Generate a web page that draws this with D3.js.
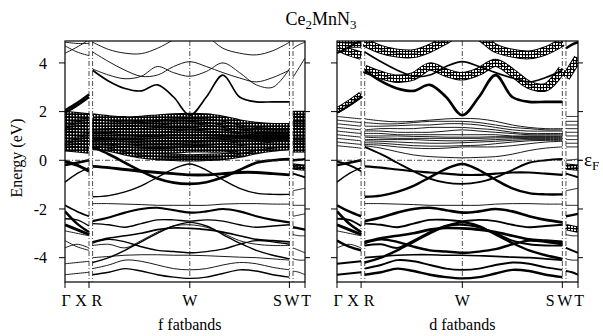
<!DOCTYPE html>
<html><head><meta charset="utf-8">
<script src="https://cdn.jsdelivr.net/npm/d3@7/dist/d3.min.js"></script>
<style>body{margin:0;background:#fff}svg{display:block;font-family:"Liberation Serif","Times New Roman",serif}</style>
</head><body><svg id="c" width="603" height="336"></svg>
<script>
// ---------- data ----------
const eTicks = [-4, -2, 0, 2, 4];
const kLabels = ["Γ", "X", "R", "W", "S", "W", "T"];
const kLabelPos = [0.005, 0.067, 0.133, 0.52, 0.885, 0.945, 1.005];
const kTicks = [0, 0.1, 0.52, 0.935, 1.0];
const kSymLines = [0.1, 0.115, 0.52, 0.935, 0.95];
const panelNames = ["f fatbands", "d fatbands"];

const kGX = [0, 0.05, 0.1];
const kRWS = [0.115, 0.1825, 0.25, 0.3175, 0.385, 0.4525, 0.52, 0.589, 0.658, 0.7275, 0.797, 0.866, 0.935];
const kWT = [0.95, 0.975, 1.0];

const bandsGX = [
  [4.85, 4.8, 4.8], [4.7, 4.45, 4.3], [4.4, 4.65, 4.95],
  [2.05, 2.35, 2.7], [1.95, 2.25, 2.6],
  [1.8, 1.75, 1.7], [1.65, 1.6, 1.55], [1.5, 1.45, 1.4], [1.35, 1.3, 1.25], [1.2, 1.15, 1.1],
  [1.05, 1.0, 0.95], [0.9, 0.85, 0.8], [0.75, 0.7, 0.65], [0.6, 0.55, 0.5],
  [-0.05, -0.2, -0.45], [-0.2, -0.1, 0.0], [-0.9, -0.55, -0.3],
  [-1.85, -2.1, -2.3], [-2.1, -2.6, -2.95], [-2.4, -2.45, -2.7], [-2.65, -2.85, -3.05],
  [-2.9, -3.0, -3.1], [-3.3, -3.55, -3.7], [-3.6, -3.45, -3.6], [-4.25, -4.2, -4.15], [-4.7, -4.65, -4.6]
];
const fwGX = [0,0,0, 0.3,0.3, 1,1,1,1,1,1,1,1,1, 0.45,0.3,0.1, 0.15,0.3,0.1,0.4, 0,0,0,0,0];
const dwGX = [0.7,0.7,0.2, 0.5,0.2, 0,0,0,0,0,0,0,0,0, 0.2,0.3,0.1, 0.35,0.35,0.2,0.4, 0,0.3,0,0.2,0.2];

const bandsRWS = [
  [4.85, 4.55, 4.4, 4.38, 4.6, 4.95, 5.3, 5.1, 4.6, 4.4, 4.33, 4.5, 4.85],
  [4.45, 4.05, 3.7, 3.45, 3.5, 3.85, 4.05, 3.85, 3.6, 3.38, 3.22, 3.4, 3.7],
  [3.75, 3.5, 3.35, 3.45, 3.85, 3.6, 3.45, 3.65, 4.0, 3.6, 3.1, 3.0, 3.75],
  [3.7, 3.25, 2.95, 2.85, 3.1, 2.6, 1.85, 2.6, 3.5, 2.6, 2.4, 2.4, 2.4],
  [1.7, 1.62, 1.58, 1.6, 1.65, 1.7, 1.72, 1.7, 1.6, 1.45, 1.35, 1.3, 1.3],
  [1.55, 1.5, 1.5, 1.55, 1.6, 1.6, 1.6, 1.55, 1.45, 1.35, 1.3, 1.25, 1.25],
  [1.4, 1.4, 1.42, 1.45, 1.45, 1.5, 1.5, 1.45, 1.35, 1.25, 1.2, 1.2, 1.2],
  [1.25, 1.3, 1.3, 1.3, 1.35, 1.35, 1.35, 1.3, 1.25, 1.15, 1.1, 1.1, 1.1],
  [1.2, 1.2, 1.15, 1.15, 1.15, 1.2, 1.25, 1.2, 1.15, 1.1, 1.05, 1.05, 1.05],
  [1.1, 1.1, 1.05, 1.05, 1.05, 1.05, 1.05, 1.05, 1.05, 1.0, 1.0, 1.0, 1.0],
  [1.0, 1.0, 1.0, 0.98, 0.97, 0.95, 0.95, 0.95, 0.97, 0.97, 0.97, 0.97, 0.97],
  [0.95, 0.92, 0.9, 0.9, 0.9, 0.9, 0.9, 0.9, 0.92, 0.93, 0.93, 0.93, 0.93],
  [0.85, 0.85, 0.85, 0.85, 0.82, 0.8, 0.8, 0.82, 0.85, 0.88, 0.9, 0.9, 0.9],
  [0.8, 0.78, 0.75, 0.72, 0.7, 0.7, 0.72, 0.75, 0.78, 0.82, 0.85, 0.85, 0.85],
  [0.72, 0.7, 0.65, 0.6, 0.58, 0.58, 0.6, 0.62, 0.68, 0.75, 0.8, 0.82, 0.82],
  [0.65, 0.62, 0.55, 0.5, 0.48, 0.5, 0.55, 0.55, 0.55, 0.6, 0.68, 0.75, 0.78],
  [0.6, 0.5, 0.35, 0.22, 0.15, 0.12, 0.1, 0.12, 0.15, 0.25, 0.4, 0.5, 0.55],
  [0.55, 0.25, -0.1, -0.45, -0.75, -0.92, -0.97, -0.9, -0.7, -0.4, -0.1, 0.0, 0.05],
  [-1.5, -1.45, -1.3, -1.05, -0.7, -0.35, -0.15, -0.4, -0.8, -1.15, -1.35, -1.4, -1.4],
  [-0.25, -0.3, -0.38, -0.45, -0.5, -0.55, -0.6, -0.6, -0.55, -0.5, -0.5, -0.55, -0.6],
  [-1.78, -1.78, -1.8, -1.82, -1.85, -1.85, -1.85, -1.85, -1.8, -1.78, -1.78, -1.8, -1.8],
  [-2.5, -2.35, -2.15, -2.0, -1.95, -2.05, -2.15, -2.1, -2.0, -2.1, -2.3, -2.45, -2.55],
  [-2.6, -2.65, -2.75, -2.6, -2.45, -2.45, -2.5, -2.45, -2.5, -2.65, -2.75, -2.7, -2.65],
  [-4.2, -4.0, -3.7, -3.35, -3.0, -2.7, -2.55, -2.7, -3.05, -3.4, -3.7, -3.9, -4.05],
  [-3.5, -3.45, -3.6, -3.3, -2.95, -2.7, -2.65, -2.75, -3.0, -3.3, -3.45, -3.5, -3.5],
  [-3.35, -3.2, -3.1, -3.0, -2.85, -2.78, -2.8, -2.85, -2.95, -3.1, -3.25, -3.3, -3.35],
  [-4.0, -3.95, -3.9, -3.88, -3.88, -3.9, -3.9, -3.92, -3.95, -3.98, -4.0, -4.05, -4.1],
  [-3.4, -3.25, -3.35, -3.55, -3.7, -3.75, -3.8, -3.75, -3.65, -3.45, -3.3, -3.35, -3.45],
  [-4.7, -4.6, -4.45, -4.55, -4.7, -4.8, -4.85, -4.8, -4.65, -4.5, -4.55, -4.7, -4.8],
  [-4.45, -4.3, -4.1, -4.15, -4.3, -4.45, -4.5, -4.45, -4.3, -4.2, -4.25, -4.4, -4.5]
];
const fwRWS = [0,0,0,0.15, 1,1,1,1,1,1,1,1,1,1,1,1, 0.6, 0.35,0.1,0.4, 0,0.25,0.1, 0.1,0,0.15, 0,0.1,0.1,0];
const dwRWS = [0.75,0.15,0.7,0.35, 0,0,0,0,0,0,0,0,0,0,0,0, 0, 0.2,0.3,0.25, 0,0.35,0.2, 0.3,0.2,0.35, 0.15,0.3,0.3,0.2];

const bandsWT = [
  [3.4, 3.8, 4.2], [4.6, 4.75, 4.85],
  [1.8, 1.8, 1.8], [1.6, 1.6, 1.6], [1.45, 1.45, 1.45], [1.3, 1.3, 1.3], [1.15, 1.15, 1.15],
  [1.0, 1.0, 1.0], [0.85, 0.85, 0.85], [0.7, 0.7, 0.7], [0.55, 0.55, 0.55],
  [0.0, 0.02, 0.05], [-0.25, -0.28, -0.3], [-0.55, -0.62, -0.7], [-1.25, -1.2, -1.15],
  [-1.85, -1.85, -1.85], [-2.3, -2.25, -2.2], [-2.75, -2.8, -2.85], [-3.05, -3.1, -3.1],
  [-3.6, -3.7, -3.8], [-4.05, -4.1, -4.1], [-4.55, -4.6, -4.7]
];
const fwWT = [0,0, 1,1,1,1,1,1,1,1,1, 0.3,0.5,0.2,0, 0,0,0.3,0, 0,0,0];
const dwWT = [0.7,0.3, 0,0,0,0,0,0,0,0,0, 0,0.5,0.2,0, 0,0.3,0.5,0, 0.2,0,0.2];

// ---------- layout ----------
const svg = d3.select("#c");
const yTop = 41, yBot = 282;
const panels = [{x0: 65, x1: 305, key: "f", pat: "gridDark"}, {x0: 337, x1: 578, key: "d", pat: "grid"}];
const y = d3.scaleLinear().domain([-5, 4.9]).range([yBot, yTop]);
const segments = [
  {k: kGX, bands: bandsGX, f: fwGX, d: dwGX},
  {k: kRWS, bands: bandsRWS, f: fwRWS, d: dwRWS},
  {k: kWT, bands: bandsWT, f: fwWT, d: dwWT}
];
const defs = svg.append("defs");
const pat = defs.append("pattern").attr("id", "grid").attr("width", 3).attr("height", 3)
  .attr("patternUnits", "userSpaceOnUse");
pat.append("rect").attr("width", 3).attr("height", 3).attr("fill", "#fff");
pat.append("path").attr("d", "M0 0.5H3M0.5 0V3").attr("stroke", "#000").attr("stroke-width", 1);
const pat2 = defs.append("pattern").attr("id", "gridDark").attr("width", 3).attr("height", 3)
  .attr("patternUnits", "userSpaceOnUse");
pat2.append("rect").attr("width", 3).attr("height", 3).attr("fill", "#000");
pat2.append("rect").attr("x", 1).attr("y", 1).attr("width", 1.4).attr("height", 1.4).attr("fill", "#fff");

const lineGen = d3.line().curve(d3.curveCatmullRom.alpha(0.5));
const dash = "5,2,1,2";

panels.forEach((p, pi) => {
  const x = d3.scaleLinear().domain([0, 1]).range([p.x0, p.x1]);
  defs.append("clipPath").attr("id", "clip" + pi).append("rect")
    .attr("x", p.x0).attr("y", yTop).attr("width", p.x1 - p.x0).attr("height", yBot - yTop);
  const g = svg.append("g").attr("clip-path", `url(#clip${pi})`);
  g.selectAll("line.sym").data(kSymLines).join("line").attr("class", "sym")
    .attr("x1", d => x(d)).attr("x2", d => x(d)).attr("y1", yTop).attr("y2", yBot)
    .attr("stroke", "#222").attr("stroke-width", 0.8).attr("stroke-dasharray", dash);
  const items = [];
  segments.forEach(s => s.bands.forEach((b, i) => {
    items.push({d: lineGen(b.map((e, j) => [x(s.k[j]), y(e)])), w: s[p.key][i]});
  }));
  const fat = items.filter(it => it.w >= 0.5);
  g.selectAll("path.fo").data(fat).join("path").attr("class", "fo").attr("d", d => d.d)
    .attr("fill", "none").attr("stroke", "#000").attr("stroke-width", d => d.w * 10 + 1.4);
  g.selectAll("path.fi").data(fat).join("path").attr("class", "fi").attr("d", d => d.d)
    .attr("fill", "none").attr("stroke", `url(#${p.pat})`).attr("stroke-width", d => d.w * 10 - 0.6);
  g.selectAll("path.ln").data(items).join("path").attr("class", "ln").attr("d", d => d.d)
    .attr("fill", "none").attr("stroke", "#000")
    .attr("stroke-width", d => d.w >= 0.5 ? (p.key === "f" ? 1.1 : 0.8) : 0.9 + d.w * 5);
  svg.append("line").attr("x1", p.x0).attr("x2", p.x1 + (pi === 1 ? 6 : 0))
    .attr("y1", y(0)).attr("y2", y(0))
    .attr("stroke", "#222").attr("stroke-width", 0.8).attr("stroke-dasharray", dash);
  svg.append("rect").attr("x", p.x0).attr("y", yTop).attr("width", p.x1 - p.x0).attr("height", yBot - yTop)
    .attr("fill", "none").attr("stroke", "#000").attr("stroke-width", 1.2);
  eTicks.forEach(t => {
    svg.append("line").attr("x1", p.x0 - 6).attr("x2", p.x0).attr("y1", y(t)).attr("y2", y(t))
      .attr("stroke", "#000").attr("stroke-width", 1);
    svg.append("line").attr("x1", p.x1).attr("x2", p.x1 + 5).attr("y1", y(t)).attr("y2", y(t))
      .attr("stroke", "#000").attr("stroke-width", 1);
  });
  kTicks.forEach(t => {
    svg.append("line").attr("x1", x(t)).attr("x2", x(t)).attr("y1", yBot).attr("y2", yBot + 6)
      .attr("stroke", "#000").attr("stroke-width", 1);
  });
  kLabels.forEach((l, i) => {
    svg.append("text").attr("x", x(kLabelPos[i])).attr("y", 306).attr("text-anchor", "middle")
      .attr("font-size", 16).text(l);
  });
  svg.append("text").attr("x", x(0.52)).attr("y", 330).attr("text-anchor", "middle")
    .attr("font-size", 16).text(panelNames[pi]);
});

eTicks.forEach(t => {
  svg.append("text").attr("x", 47).attr("y", y(t)).attr("dy", "0.35em").attr("text-anchor", "end")
    .attr("font-size", 16).text(String(t));
});
svg.append("text").attr("transform", "translate(22,158) rotate(-90)").attr("text-anchor", "middle")
  .attr("font-size", 16).text("Energy (eV)");

const tt = svg.append("text").attr("x", 321).attr("y", 25).attr("text-anchor", "middle").attr("font-size", 18);
tt.append("tspan").text("Ce");
tt.append("tspan").attr("dy", 4).attr("font-size", 13).text("2");
tt.append("tspan").attr("dy", -4).text("MnN");
tt.append("tspan").attr("dy", 4).attr("font-size", 13).text("3");

const ef = svg.append("text").attr("x", 584).attr("y", 166).attr("font-size", 19);
ef.append("tspan").text("ε");
ef.append("tspan").attr("dy", 4).attr("font-size", 13).text("F");
</script></body></html>
